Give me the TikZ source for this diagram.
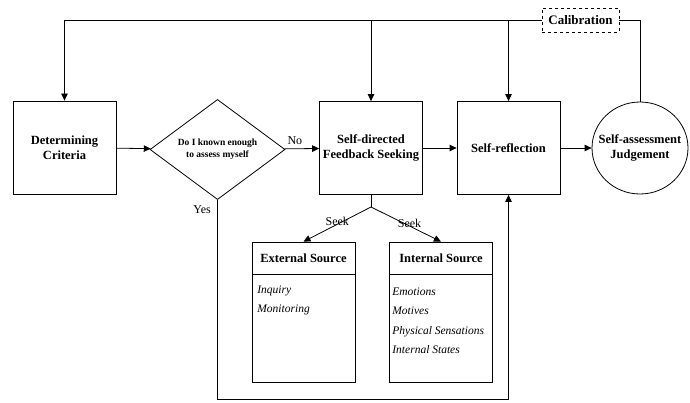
\documentclass[tikz,border=0pt]{standalone}
\usepackage{fontspec}
\setmainfont{Liberation Serif}
\usetikzlibrary{shapes.geometric,arrows.meta}
\begin{document}
\begin{tikzpicture}[x=1pt, y=-1pt, line width=0.8pt,
    >={Triangle[length=7pt,width=6.5pt]},
    box/.style={rectangle, draw, minimum width=103pt, minimum height=93pt, align=center, font=\fontsize{12.5}{15}\selectfont\bfseries},
    decision/.style={diamond, draw, minimum width=135pt, minimum height=95pt, inner sep=0pt, align=center, font=\fontsize{9.5}{12}\selectfont\bfseries},
    judge/.style={ellipse, draw, minimum width=96pt, minimum height=92pt, inner sep=-14pt, align=center, font=\fontsize{12.5}{15}\selectfont\bfseries},
    calib/.style={rectangle, draw, dashed, minimum width=77pt, minimum height=24pt, inner sep=1pt, font=\fontsize{13}{15}\selectfont\bfseries},
    head/.style={rectangle, draw, minimum width=103pt, minimum height=32pt, font=\fontsize{12.5}{15}\selectfont\bfseries},
    body/.style={rectangle, draw, minimum width=103pt, minimum height=108pt},
    items/.style={anchor=north west, align=left, inner sep=0pt, font=\fontsize{11.5}{19.5}\selectfont\itshape},
    lbl/.style={font=\fontsize{12}{14}\selectfont}]
    \useasboundingbox (0,0) rectangle (690,403);

    % Nodes
    \node[box] (dc) at (64.5,147.5) {Determining\\Criteria};
    \node[decision] (know) at (217.5,149.5) {Do I known enough\\to assess myself};
    \node[box] (sd) at (371,148) {Self-directed\\Feedback Seeking};
    \node[box] (sr) at (508.5,148) {Self-reflection};
    \node[judge] (judge) at (640,148) {Self-assessment\\Judgement};
    \node[calib] (cal) at (580.5,20) {Calibration};

    \node[head] (exth) at (303.5,258) {External Source};
    \node[body] (extb) at (303.5,328) {};
    \node[items] (extl) at (257,285) {Inquiry\\Monitoring};
    \node[head] (inth) at (441,258) {Internal Source};
    \node[body] (intb) at (441,328) {};
    \node[items] (intl) at (392,287) {Emotions\\Motives\\Physical Sensations\\Internal States};

    \coordinate (fork) at (371,207);
    \coordinate (yes) at (217.5,399);

    % Edges
    \draw[->] (dc) -- (know);
    \draw[->] (know) -- node[lbl, above, pos=0.3] {No} (sd);
    \draw[->] (sd) -- (sr);
    \draw[->] (sr) -- (judge);

    % calibration loop
    \draw (judge.north) |- (cal.east);
    \draw[->] (cal.west) -| (dc.north);
    \foreach \n in {sd,sr} {
        \draw[->] (\n.north |- cal.west) -- (\n.north);
    }

    % seeking
    \draw (sd.south) -- (fork);
    \draw[->] (fork) -- node[lbl, pos=0.5, yshift=3pt] {Seek} (exth.north);
    \draw[->] (fork) -- node[lbl, pos=0.55, yshift=3pt] {Seek} (inth.north);

    % yes path
    \draw[->] (know.south) -- node[lbl, left, pos=0.05, xshift=-3pt] {Yes} (yes) -| (sr.south);
\end{tikzpicture}
\end{document}
